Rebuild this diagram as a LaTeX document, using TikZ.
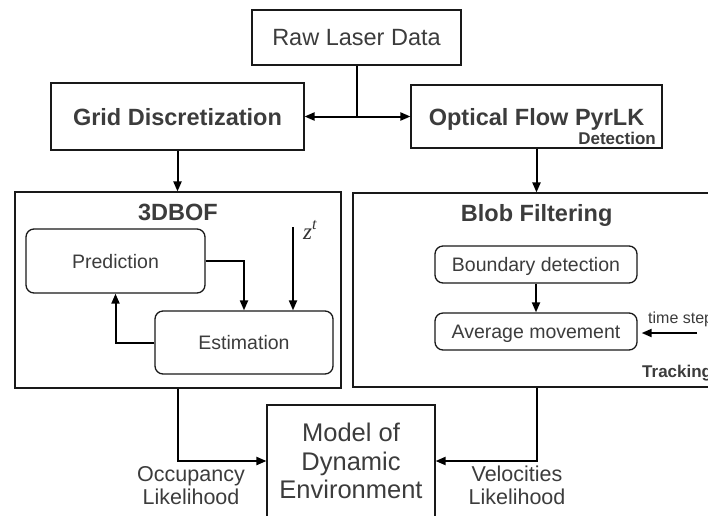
\documentclass[tikz,border=0pt]{standalone}
\usepackage{fontspec}
\setmainfont{Liberation Sans}
\newfontfamily\zfont{Liberation Serif}
\usepackage{tikz}
\usetikzlibrary{arrows.meta}
\definecolor{txtgray}{HTML}{3C3C3C}

\begin{document}
\begin{tikzpicture}[x=1pt,y=-1pt,
    box/.style={draw=black!90,line width=1.1pt,fill=white,text=txtgray,inner sep=0pt,text depth=0pt,align=center},
    rbox/.style={box,line width=1.3pt,rounded corners=8pt},
    conn/.style={line width=2pt,-{Triangle[length=10pt,width=8pt]}},
    lbl/.style={text=txtgray,inner sep=0pt,align=center}]
        \useasboundingbox (0,0) rectangle (708,515);
        \clip (0,0) rectangle (708,515);

        % Top row
        \node[box,minimum width=209pt,minimum height=55pt,font=\fontsize{23.5}{28}\selectfont] (raw) at (356.5,37.5) {Raw Laser Data};
        \node[box,minimum width=253pt,minimum height=67pt,font=\bfseries\fontsize{23.5}{28}\selectfont] (grid) at (177.5,116.5) {Grid Discretization};
        \node[box,minimum width=251pt,minimum height=63pt,font=\bfseries\fontsize{23.5}{28}\selectfont] (flow) at (536.5,116.5) {Optical Flow PyrLK};
        \node[lbl,anchor=base east,font=\bfseries\fontsize{17}{20}\selectfont] (det) at (656,144) {Detection};

        % 3DBOF block
        \node[box,minimum width=326pt,minimum height=196pt] (bof) at (178,290) {};
        \node[lbl,anchor=base,font=\bfseries\fontsize{23.5}{28}\selectfont] (boftitle) at (178,220) {3DBOF};
        \node[rbox,minimum width=179pt,minimum height=64pt,font=\fontsize{19.5}{23}\selectfont] (pred) at (115.5,261) {Prediction};
        \node[rbox,minimum width=178pt,minimum height=63pt,font=\fontsize{19.5}{23}\selectfont] (est) at (244,342.5) {Estimation};

        % Blob filtering block
        \node[box,minimum width=367pt,minimum height=194pt] (blob) at (536.5,290) {};
        \node[lbl,anchor=base,font=\bfseries\fontsize{23.5}{28}\selectfont] (blobtitle) at (536.7,221.5) {Blob Filtering};
        \node[rbox,minimum width=202pt,minimum height=37pt,font=\fontsize{19.5}{23}\selectfont] (bound) at (536,264.5) {Boundary detection};
        \node[rbox,minimum width=202pt,minimum height=37pt,font=\fontsize{19.5}{23}\selectfont] (avg) at (536,331.5) {Average movement};
        \node[lbl,anchor=base west,font=\fontsize{16}{19}\selectfont] (tstep) at (648,323) {time step};
        \node[lbl,anchor=base west,font=\bfseries\fontsize{17}{20}\selectfont] (track) at (642,377) {Tracking};

        % Output
        \node[box,minimum width=168pt,minimum height=112pt,font=\fontsize{25.5}{28.5}\selectfont] (model) at (351,461) {Model of\\Dynamic\\Environment};
        \node[lbl,anchor=north,font=\fontsize{21.5}{23}\selectfont] (occ) at (191,466) {Occupancy\\Likelihood};
        \node[lbl,anchor=north,font=\fontsize{21.5}{23}\selectfont] (vel) at (517,466) {Velocities\\Likelihood};

        % Connections
        \coordinate (split) at (raw.south |- grid.east);
        \draw[line width=2pt] (raw.south) -- (split);
        \draw[conn] (split) -- (grid.east);
        \draw[conn] (split) -- (flow.west);
        \draw[conn] (grid.south) -- (grid.south |- bof.north);
        \draw[conn] (flow.south) -- (flow.south |- blob.north);
        \draw[conn] (pred.east) -| (est.north);
        \coordinate (zin) at (293,227);
        \draw[conn] (zin) -- (zin |- est.north);
        \node[lbl,anchor=base west,text=black!80,font=\fontsize{23}{26}\selectfont] (zt) at (303,239) {\zfont\itshape z\textsuperscript{t}};
        \draw[conn] (est.west) -| (pred.south);
        \draw[conn] (bound.south) -- (avg.north);
        \coordinate (tin) at (697,333);
        \draw[conn,shorten >=4pt] (tin) -- (tin -| avg.east);
        \draw[conn] (bof.south) |- (model.west);
        \draw[conn] (blob.south) |- (model.east);
\end{tikzpicture}
\end{document}
